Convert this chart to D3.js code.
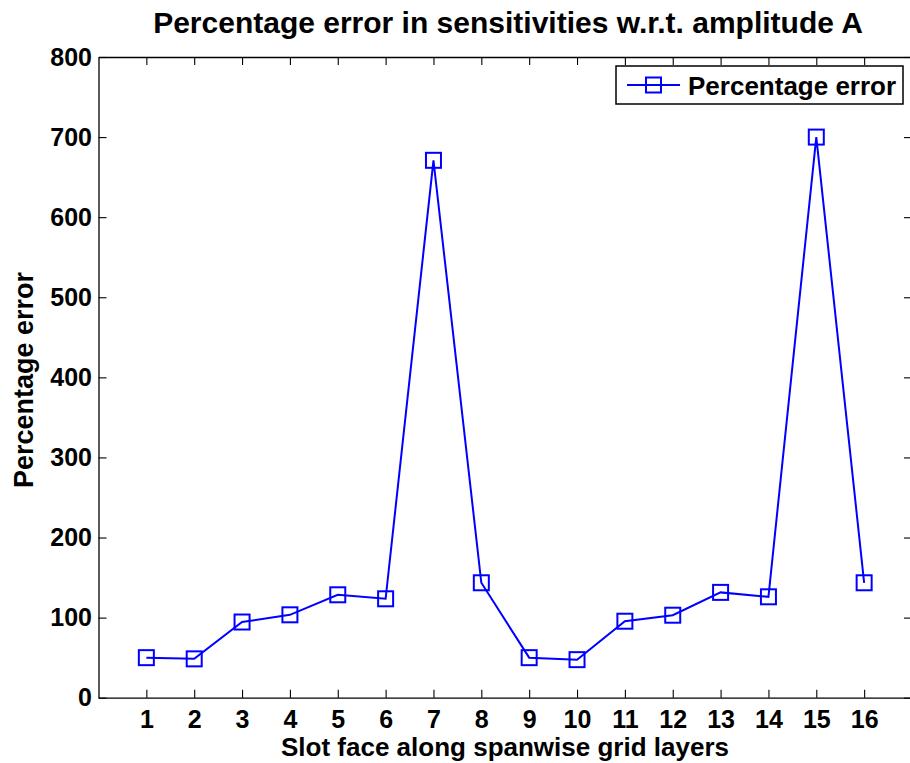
<!DOCTYPE html>
<html>
<head>
<meta charset="utf-8">
<script src="https://cdn.jsdelivr.net/npm/d3@7/dist/d3.min.js"></script>
<style>
  html, body { margin: 0; padding: 0; background: #fff; overflow: hidden; }
  svg { display: block; font-family: "Liberation Sans", Arial, Helvetica, sans-serif; }
  .axis path, .axis line { stroke: #000; }
  .axis text { font-size: 25px; font-weight: bold; fill: #000; }
</style>
</head>
<body>
<svg id="chart" width="910" height="763"></svg>
<script>
// Slot face index along the spanwise grid layers
const slotFaces = [1, 2, 3, 4, 5, 6, 7, 8, 9, 10, 11, 12, 13, 14, 15, 16];
// Percentage error in the sensitivity w.r.t. amplitude A
const percentError = [50, 48.5, 94.5, 103.5, 128.5, 123.5, 671, 143.5, 50, 47.5, 95.5, 103, 131.5, 126, 700, 143.5];
const yTicks = [0, 100, 200, 300, 400, 500, 600, 700, 800];
const titleText = "Percentage error in sensitivities w.r.t. amplitude A";
const xLabelText = "Slot face along spanwise grid layers";
const yLabelText = "Percentage error";
const seriesName = "Percentage error";

const svg = d3.select("#chart");
const plotLeft = 98.5, plotRight = 912, plotTop = 57, plotBottom = 697.7;
const blue = "#0000ff";

const x = d3.scaleLinear().domain([0, 17]).range([plotLeft, plotRight]);
const y = d3.scaleLinear().domain([0, 800]).range([plotBottom, plotTop]);

// Axes with inward ticks on all four sides
svg.append("g").attr("class", "axis")
  .attr("transform", `translate(0,${plotBottom})`)
  .call(d3.axisBottom(x).tickValues(slotFaces).tickSize(-8).tickSizeOuter(0).tickPadding(13).tickFormat(d3.format("d")));
svg.append("g").attr("class", "axis")
  .attr("transform", `translate(0,${plotTop})`)
  .call(d3.axisTop(x).tickValues(slotFaces).tickSize(-8).tickSizeOuter(0).tickFormat(""));
svg.append("g").attr("class", "axis")
  .attr("transform", `translate(${plotLeft},0)`)
  .call(d3.axisLeft(y).tickValues(yTicks).tickSize(-8).tickSizeOuter(0).tickPadding(6.5).tickFormat(d3.format("d")));
svg.append("g").attr("class", "axis")
  .attr("transform", `translate(${plotRight},0)`)
  .call(d3.axisRight(y).tickValues(yTicks).tickSize(-8).tickSizeOuter(0).tickFormat(""));
svg.selectAll(".axis path").attr("stroke-width", 1.3);
svg.selectAll(".axis line").attr("stroke-width", 1.1).attr("stroke", "#222");

// Series line and square markers
const pts = slotFaces.map((s, i) => [s, percentError[i]]);
svg.append("path")
  .datum(pts)
  .attr("fill", "none")
  .attr("stroke", blue)
  .attr("stroke-width", 2)
  .attr("d", d3.line().x(d => x(d[0])).y(d => y(d[1])));

const ms = 15;
svg.append("g").selectAll("rect")
  .data(pts)
  .join("rect")
  .attr("x", d => x(d[0]) - ms / 2)
  .attr("y", d => y(d[1]) - ms / 2)
  .attr("width", ms)
  .attr("height", ms)
  .attr("fill", "none")
  .attr("stroke", blue)
  .attr("stroke-width", 2);

// Title and axis labels
svg.append("text")
  .attr("x", 508).attr("y", 33)
  .attr("text-anchor", "middle")
  .attr("font-size", 30).attr("font-weight", "bold")
  .text(titleText);
svg.append("text")
  .attr("x", 505).attr("y", 756)
  .attr("text-anchor", "middle")
  .attr("font-size", 26).attr("font-weight", "bold")
  .text(xLabelText);
svg.append("text")
  .attr("transform", "translate(33,380) rotate(-90)")
  .attr("text-anchor", "middle")
  .attr("font-size", 27).attr("font-weight", "bold")
  .text(yLabelText);

// Legend
const lg = svg.append("g");
lg.append("rect")
  .attr("x", 616).attr("y", 66).attr("width", 287).attr("height", 38)
  .attr("fill", "#fff").attr("stroke", "#000").attr("stroke-width", 1.5);
lg.append("line")
  .attr("x1", 627).attr("x2", 680).attr("y1", 85).attr("y2", 85)
  .attr("stroke", blue).attr("stroke-width", 2);
lg.append("rect")
  .attr("x", 653.5 - ms / 2).attr("y", 85 - ms / 2).attr("width", ms).attr("height", ms)
  .attr("fill", "none").attr("stroke", blue).attr("stroke-width", 2);
lg.append("text")
  .attr("x", 688).attr("y", 95)
  .attr("font-size", 26).attr("font-weight", "bold")
  .text(seriesName);
</script>
</body>
</html>
